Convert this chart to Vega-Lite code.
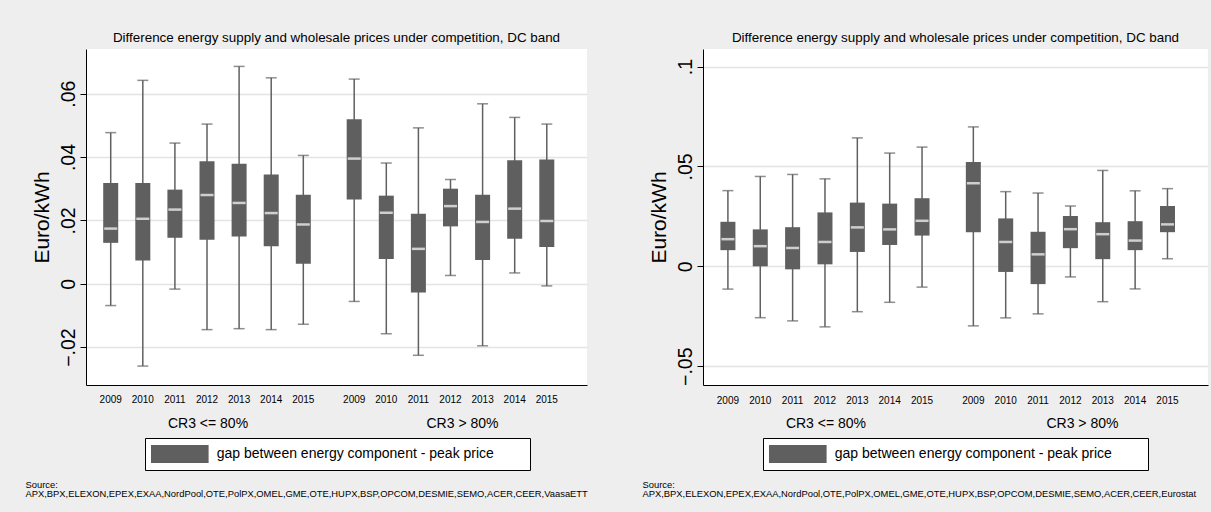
{
  "$schema": "https://vega.github.io/schema/vega-lite/v6.json",
  "background": "#eeeeee",
  "padding": {"left": 25, "top": 30, "right": 3, "bottom": 15},
  "bounds": "flush",
  "spacing": 116,
  "config": {
    "font": "Liberation Sans",
    "view": {"fill": "white", "stroke": null},
    "axisX": {"grid": false, "ticks": false, "domain": true, "domainColor": "black", "domainWidth": 1, "labelFontSize": 14, "labelColor": "black", "labelPadding": 31, "labelAngle": 0,
      "labelOffset": {"condition": {"test": "datum.value == 'CR3 > 80%'", "value": 12}, "value": 1},
      "titleFontSize": 9.4, "titleFontWeight": "normal", "titleColor": "black", "titleX": -61, "titleY": 95, "titleAlign": "left", "titleAnchor": "start", "titleBaseline": "top", "titleLineHeight": 9},
    "axisY": {"grid": true, "gridColor": "#e4e4e4", "gridWidth": 1.5, "domainColor": "black", "tickColor": "black", "tickSize": 6, "labelAngle": -90, "labelAlign": "center", "labelBaseline": "bottom", "labelFontSize": 19.5, "labelPadding": 2, "labelColor": "black",
      "labelExpr": "datum.value == 0 ? '0' : replace(format(datum.value, '.2~f'), '0.', '.')",
      "titleFontSize": 21, "titleFontWeight": "normal", "titleColor": "black", "titlePadding": 6},
    "title": {"fontSize": 13.4, "fontWeight": "normal", "color": "black", "baseline": "alphabetic", "offset": 5, "anchor": "middle", "frame": "group"}
  },
  "datasets": {
    "left": [
      {"group": "CR3 <= 80%", "year": "2009", "lower": -0.0069, "q1": 0.0129, "median": 0.0174, "q3": 0.0318, "upper": 0.0477},
      {"group": "CR3 <= 80%", "year": "2010", "lower": -0.0260, "q1": 0.0073, "median": 0.0205, "q3": 0.0318, "upper": 0.0642},
      {"group": "CR3 <= 80%", "year": "2011", "lower": -0.0017, "q1": 0.0145, "median": 0.0234, "q3": 0.0297, "upper": 0.0444},
      {"group": "CR3 <= 80%", "year": "2012", "lower": -0.0145, "q1": 0.0139, "median": 0.0280, "q3": 0.0387, "upper": 0.0504},
      {"group": "CR3 <= 80%", "year": "2013", "lower": -0.0142, "q1": 0.0149, "median": 0.0255, "q3": 0.0379, "upper": 0.0686},
      {"group": "CR3 <= 80%", "year": "2014", "lower": -0.0145, "q1": 0.0118, "median": 0.0223, "q3": 0.0345, "upper": 0.0650},
      {"group": "CR3 <= 80%", "year": "2015", "lower": -0.0128, "q1": 0.0063, "median": 0.0187, "q3": 0.0281, "upper": 0.0405},
      {"group": "CR3 > 80%", "year": "2009", "lower": -0.0056, "q1": 0.0266, "median": 0.0395, "q3": 0.0519, "upper": 0.0646},
      {"group": "CR3 > 80%", "year": "2010", "lower": -0.0158, "q1": 0.0078, "median": 0.0224, "q3": 0.0278, "upper": 0.0381},
      {"group": "CR3 > 80%", "year": "2011", "lower": -0.0226, "q1": -0.0028, "median": 0.0110, "q3": 0.0221, "upper": 0.0492},
      {"group": "CR3 > 80%", "year": "2012", "lower": 0.0026, "q1": 0.0181, "median": 0.0245, "q3": 0.0300, "upper": 0.0329},
      {"group": "CR3 > 80%", "year": "2013", "lower": -0.0196, "q1": 0.0075, "median": 0.0195, "q3": 0.0281, "upper": 0.0568},
      {"group": "CR3 > 80%", "year": "2014", "lower": 0.0034, "q1": 0.0142, "median": 0.0237, "q3": 0.0390, "upper": 0.0525},
      {"group": "CR3 > 80%", "year": "2015", "lower": -0.0007, "q1": 0.0116, "median": 0.0198, "q3": 0.0392, "upper": 0.0504}
    ],
    "right": [
      {"group": "CR3 <= 80%", "year": "2009", "lower": -0.0114, "q1": 0.0081, "median": 0.0136, "q3": 0.0223, "upper": 0.0379},
      {"group": "CR3 <= 80%", "year": "2010", "lower": -0.0257, "q1": 0.0000, "median": 0.0101, "q3": 0.0185, "upper": 0.0450},
      {"group": "CR3 <= 80%", "year": "2011", "lower": -0.0273, "q1": -0.0015, "median": 0.0092, "q3": 0.0196, "upper": 0.0460},
      {"group": "CR3 <= 80%", "year": "2012", "lower": -0.0303, "q1": 0.0010, "median": 0.0122, "q3": 0.0270, "upper": 0.0438},
      {"group": "CR3 <= 80%", "year": "2013", "lower": -0.0227, "q1": 0.0072, "median": 0.0195, "q3": 0.0319, "upper": 0.0643},
      {"group": "CR3 <= 80%", "year": "2014", "lower": -0.0180, "q1": 0.0107, "median": 0.0185, "q3": 0.0314, "upper": 0.0567},
      {"group": "CR3 <= 80%", "year": "2015", "lower": -0.0104, "q1": 0.0154, "median": 0.0228, "q3": 0.0341, "upper": 0.0597},
      {"group": "CR3 > 80%", "year": "2009", "lower": -0.0298, "q1": 0.0171, "median": 0.0416, "q3": 0.0522, "upper": 0.0698},
      {"group": "CR3 > 80%", "year": "2010", "lower": -0.0258, "q1": -0.0028, "median": 0.0122, "q3": 0.0240, "upper": 0.0374},
      {"group": "CR3 > 80%", "year": "2011", "lower": -0.0238, "q1": -0.0089, "median": 0.0060, "q3": 0.0173, "upper": 0.0367},
      {"group": "CR3 > 80%", "year": "2012", "lower": -0.0053, "q1": 0.0091, "median": 0.0186, "q3": 0.0252, "upper": 0.0302},
      {"group": "CR3 > 80%", "year": "2013", "lower": -0.0177, "q1": 0.0036, "median": 0.0161, "q3": 0.0221, "upper": 0.0480},
      {"group": "CR3 > 80%", "year": "2014", "lower": -0.0113, "q1": 0.0081, "median": 0.0129, "q3": 0.0226, "upper": 0.0378},
      {"group": "CR3 > 80%", "year": "2015", "lower": 0.0038, "q1": 0.0171, "median": 0.0210, "q3": 0.0302, "upper": 0.0389}
    ]
  },
  "resolve": {"scale": {"x": "independent", "y": "independent", "color": "independent", "xOffset": "independent"}, "axis": {"x": "independent", "y": "independent"}, "legend": {"color": "independent"}},
  "hconcat": [
    {
      "width": 501, "height": 336,
      "title": {"text": "Difference energy supply and wholesale prices under competition, DC band"},
      "data": {"name": "left"},
      "encoding": {
        "x": {"field": "group", "type": "nominal", "sort": ["CR3 <= 80%", "CR3 > 80%"], "scale": {"paddingInner": 0.0772, "paddingOuter": 0.0674, "align": 0.264},
          "axis": {"title": ["Source:", "APX,BPX,ELEXON,EPEX,EXAA,NordPool,OTE,PolPX,OMEL,GME,OTE,HUPX,BSP,OPCOM,DESMIE,SEMO,ACER,CEER,VaasaETT"]}},
        "xOffset": {"field": "year", "type": "nominal", "scale": {"paddingInner": 0, "paddingOuter": 0}}
      },
      "layer": [
        {"mark": {"type": "rule", "color": "#606060", "strokeWidth": 1.5},
         "encoding": {"y": {"field": "lower", "type": "quantitative", "title": "Euro/kWh", "scale": {"domain": [-0.03198, 0.0741], "nice": false, "zero": false}, "axis": {"values": [-0.02, 0, 0.02, 0.04, 0.06]}}, "y2": {"field": "upper"}}},
        {"mark": {"type": "tick", "color": "#606060", "thickness": 1.5, "size": 11},
         "encoding": {"y": {"field": "upper", "type": "quantitative", "title": "Euro/kWh"}}},
        {"mark": {"type": "tick", "color": "#606060", "thickness": 1.5, "size": 11},
         "encoding": {"y": {"field": "lower", "type": "quantitative", "title": "Euro/kWh"}}},
        {"mark": {"type": "bar", "width": 15},
         "encoding": {"y": {"field": "q1", "type": "quantitative", "title": "Euro/kWh"}, "y2": {"field": "q3"},
           "color": {"datum": "gap between energy component - peak price", "type": "nominal", "scale": {"range": ["#5f5f5f"]},
             "legend": {"title": ".", "titleOrient": "right", "titleColor": "white", "titleFontSize": 14, "titleFontWeight": "normal", "titlePadding": 25, "orient": "none", "legendX": 59, "legendY": 389, "fillColor": "white", "strokeColor": "black", "padding": 7, "symbolType": "M-3.2,-1H3.2V1H-3.2Z", "symbolSize": 324, "symbolOffset": 18.8, "symbolStrokeWidth": 0, "labelOffset": 28, "labelFontSize": 14, "labelColor": "black", "labelLimit": 500}}}},
        {"mark": {"type": "tick", "color": "white", "thickness": 2.5, "size": 13},
         "encoding": {"y": {"field": "median", "type": "quantitative", "title": "Euro/kWh"}}},
        {"mark": {"type": "text", "fontSize": 10, "color": "black", "baseline": "middle"},
         "encoding": {"y": {"datum": -0.03687, "type": "quantitative", "title": "Euro/kWh"}, "text": {"field": "year"}}}
      ]
    },
    {
      "width": 505, "height": 336,
      "title": {"text": "Difference energy supply and wholesale prices under competition, DC band"},
      "data": {"name": "right"},
      "encoding": {
        "x": {"field": "group", "type": "nominal", "sort": ["CR3 <= 80%", "CR3 > 80%"], "scale": {"paddingInner": 0.0772, "paddingOuter": 0.0674, "align": 0.264},
          "axis": {"title": ["Source:", "APX,BPX,ELEXON,EPEX,EXAA,NordPool,OTE,PolPX,OMEL,GME,OTE,HUPX,BSP,OPCOM,DESMIE,SEMO,ACER,CEER,Eurostat"]}},
        "xOffset": {"field": "year", "type": "nominal", "scale": {"paddingInner": 0, "paddingOuter": 0}}
      },
      "layer": [
        {"mark": {"type": "rule", "color": "#606060", "strokeWidth": 1.5},
         "encoding": {"y": {"field": "lower", "type": "quantitative", "title": "Euro/kWh", "scale": {"domain": [-0.0594, 0.1088], "nice": false, "zero": false}, "axis": {"values": [-0.05, 0, 0.05, 0.1]}}, "y2": {"field": "upper"}}},
        {"mark": {"type": "tick", "color": "#606060", "thickness": 1.5, "size": 11},
         "encoding": {"y": {"field": "upper", "type": "quantitative", "title": "Euro/kWh"}}},
        {"mark": {"type": "tick", "color": "#606060", "thickness": 1.5, "size": 11},
         "encoding": {"y": {"field": "lower", "type": "quantitative", "title": "Euro/kWh"}}},
        {"mark": {"type": "bar", "width": 15},
         "encoding": {"y": {"field": "q1", "type": "quantitative", "title": "Euro/kWh"}, "y2": {"field": "q3"},
           "color": {"datum": "gap between energy component - peak price", "type": "nominal", "scale": {"range": ["#5f5f5f"]},
             "legend": {"title": ".", "titleOrient": "right", "titleColor": "white", "titleFontSize": 14, "titleFontWeight": "normal", "titlePadding": 25, "orient": "none", "legendX": 60, "legendY": 389, "fillColor": "white", "strokeColor": "black", "padding": 7, "symbolType": "M-3.2,-1H3.2V1H-3.2Z", "symbolSize": 324, "symbolOffset": 18.8, "symbolStrokeWidth": 0, "labelOffset": 28, "labelFontSize": 14, "labelColor": "black", "labelLimit": 500}}}},
        {"mark": {"type": "tick", "color": "white", "thickness": 2.5, "size": 13},
         "encoding": {"y": {"field": "median", "type": "quantitative", "title": "Euro/kWh"}}},
        {"mark": {"type": "text", "fontSize": 10, "color": "black", "baseline": "middle"},
         "encoding": {"y": {"datum": -0.06735, "type": "quantitative", "title": "Euro/kWh"}, "text": {"field": "year"}}}
      ]
    }
  ]
}
